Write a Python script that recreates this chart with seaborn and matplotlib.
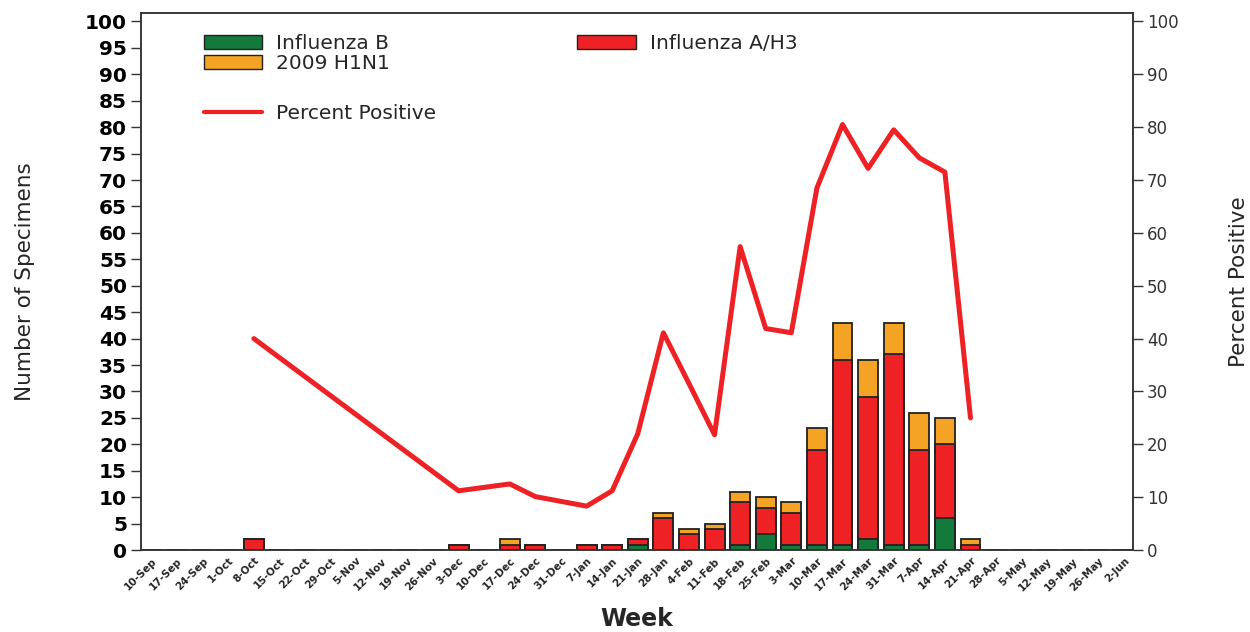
import matplotlib
matplotlib.use("Agg")
import matplotlib.pyplot as plt
import seaborn as sns
import numpy as np
import pandas as pd
from matplotlib.patches import Patch
from matplotlib.lines import Line2D
from matplotlib import font_manager

weeks = ["10-Sep", "17-Sep", "24-Sep", "1-Oct", "8-Oct", "15-Oct", "22-Oct", "29-Oct",
         "5-Nov", "12-Nov", "19-Nov", "26-Nov", "3-Dec", "10-Dec", "17-Dec", "24-Dec",
         "31-Dec", "7-Jan", "14-Jan", "21-Jan", "28-Jan", "4-Feb", "11-Feb", "18-Feb",
         "25-Feb", "3-Mar", "10-Mar", "17-Mar", "24-Mar", "31-Mar", "7-Apr", "14-Apr",
         "21-Apr", "28-Apr", "5-May", "12-May", "19-May", "26-May", "2-Jun"]

flu_b = [0, 0, 0, 0, 0, 0, 0, 0, 0, 0, 0, 0, 0, 0, 0, 0, 0, 0, 0, 1, 0, 0, 0, 1,
         3, 1, 1, 1, 2, 1, 1, 6, 0, 0, 0, 0, 0, 0, 0]
flu_a_h3 = [0, 0, 0, 0, 2, 0, 0, 0, 0, 0, 0, 0, 1, 0, 1, 1, 0, 1, 1, 1, 6, 3, 4, 8,
            5, 6, 18, 35, 27, 36, 18, 14, 1, 0, 0, 0, 0, 0, 0]
h1n1_2009 = [0, 0, 0, 0, 0, 0, 0, 0, 0, 0, 0, 0, 0, 0, 1, 0, 0, 0, 0, 0, 1, 1, 1, 2,
             2, 2, 4, 7, 7, 6, 7, 5, 1, 0, 0, 0, 0, 0, 0]
percent_positive = [None, None, None, None, 40.0, None, None, None, None, None, None, None,
                    11.2, None, 12.5, 10.1, None, 8.3, 11.2, 22.0, 41.1, 31.5, 21.8, 57.4,
                    41.9, 41.1, 68.5, 80.5, 72.2, 79.5, 74.2, 71.5, 25.0, None, None, None,
                    None, None, None]

GREEN = "#137a3c"
ORANGE = "#f4a324"
RED = "#ee2124"

sns.set_style("ticks")
plt.rcParams["font.family"] = ["DejaVu Sans"]

installed = {f.name for f in font_manager.fontManager.ttflist}
if "Liberation Sans Narrow" in installed:
    NARROW = dict(family=["Liberation Sans Narrow", "DejaVu Sans"], fontsize=18)
elif "DejaVu Sans Condensed" in installed:
    NARROW = dict(family=["DejaVu Sans Condensed", "DejaVu Sans"], fontsize=17)
else:
    NARROW = dict(family=["DejaVu Sans"], fontsize=15.5)

fig = plt.figure(figsize=(12.5, 6.32), dpi=100)
ax = fig.add_axes([141 / 1250, 82 / 632, (1133 - 141) / 1250, (550 - 13) / 632])

df = pd.DataFrame({"week": weeks, "b": flu_b, "a": flu_a_h3, "h": h1n1_2009})
df["total"] = df["b"] + df["a"] + df["h"]
df["ba"] = df["b"] + df["a"]

common = dict(x="week", order=weeks, width=0.78, errorbar=None, edgecolor="#222222",
              linewidth=1.3, ax=ax, saturation=1)
sns.barplot(data=df, y="total", color=ORANGE, **common)
sns.barplot(data=df, y="ba", color=RED, **common)
sns.barplot(data=df, y="b", color=GREEN, **common)

ax.set_xlim(-0.41, 38.35)
ax.set_ylim(0, 101.6)
ax.set_yticks(np.arange(0, 101, 5))
ax.set_yticklabels([str(v) for v in range(0, 101, 5)], fontsize=14.5, fontweight="bold")
ax.tick_params(axis="y", length=7, width=1, direction="out", pad=3, colors="#333333",
               labelcolor="black")
ax.tick_params(axis="x", length=0, pad=4)
ax.set_xticks(range(len(weeks)))
ax.set_xticklabels(weeks, rotation=45, ha="right", va="top", rotation_mode="anchor",
                   fontsize=7.5, fontweight="bold")
ax.set_xlabel("Week", fontsize=17, fontweight="bold", labelpad=10)
ax.set_ylabel("Number of Specimens", labelpad=36, **NARROW)
for s in ax.spines.values():
    s.set_color("#333333")
    s.set_linewidth(1.1)

ax2 = ax.twinx()
pp = pd.DataFrame({"x": range(len(weeks)), "pct": percent_positive}).dropna()
sns.lineplot(data=pp, x="x", y="pct", ax=ax2, color=RED, linewidth=3.6, legend=False)
ax2.set_ylim(0, 101.6)
ax2.set_xlim(-0.41, 38.35)
ax2.set_yticks(np.arange(0, 101, 10))
ax2.set_yticklabels([str(v) for v in range(0, 101, 10)], fontsize=12, color="#333333")
ax2.tick_params(axis="y", length=7, width=1, direction="out", pad=3, colors="#333333")
ax2.set_ylabel("Percent Positive", labelpad=36, **NARROW)
ax2.set_xlabel("")
for s in ax2.spines.values():
    s.set_color("#333333")
    s.set_linewidth(1.1)

bar_handles = [Patch(facecolor=GREEN, edgecolor="#222222", label="Influenza B"),
               Patch(facecolor=ORANGE, edgecolor="#222222", label="2009 H1N1"),
               Patch(facecolor=RED, edgecolor="#222222", label="Influenza A/H3")]
leg1 = ax2.legend(handles=bar_handles, ncol=2, loc="upper left",
                  bbox_to_anchor=(0.055, 0.975), frameon=False, fontsize=14.5,
                  handlelength=2.9, handleheight=0.7, handletextpad=0.7,
                  columnspacing=9.3, labelspacing=0.05, borderaxespad=0)
ax2.add_artist(leg1)
line_handle = [Line2D([0], [0], color=RED, linewidth=3, label="Percent Positive")]
ax2.legend(handles=line_handle, loc="upper left", bbox_to_anchor=(0.055, 0.845),
           frameon=False, fontsize=14.5, handlelength=2.9, handletextpad=0.7,
           borderaxespad=0)

fig.savefig("out.png", dpi=100, facecolor="white")
